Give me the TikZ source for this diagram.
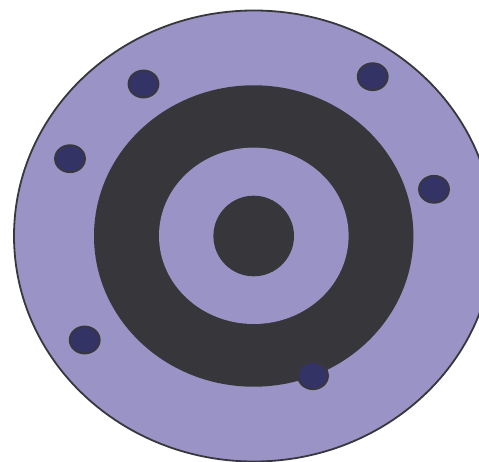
\documentclass[tikz,border=0pt]{standalone}
\definecolor{lav}{HTML}{9A93C6}
\definecolor{darkc}{HTML}{37363B}
\definecolor{dotc}{HTML}{343366}
\definecolor{edgec}{HTML}{38373D}
\tikzset{
  dotnode/.style={ellipse, draw=edgec, line width=1.8pt, fill=dotc, minimum width=30pt, minimum height=27pt, inner sep=0pt},
}
\usetikzlibrary{shapes.geometric}
\begin{document}
\begin{tikzpicture}[x=1pt,y=-1pt]
\useasboundingbox (0,0) rectangle (479,462);
\clip (0,0) rectangle (479,462);
\fill[white] (0,0) rectangle (479,462);
\draw[draw=edgec, line width=1.8pt, fill=lav] (254,236) ellipse [x radius=240, y radius=225.5];
\fill[darkc] (253.7,236) ellipse [x radius=159.7, y radius=150.7];
\fill[lav] (253.8,235.8) ellipse [x radius=94.8, y radius=88.2];
\fill[darkc] (253.7,236) ellipse [x radius=40.3, y radius=40.3];
\node[dotnode] (d1) at (143.5,84) {};
\node[dotnode] (d2) at (372.7,76.7) {};
\node[dotnode] (d3) at (70,158.7) {};
\node[dotnode] (d4) at (434,189.3) {};
\node[dotnode] (d5) at (84.7,340) {};
\node[dotnode] (d6) at (313,375.7) {};
\end{tikzpicture}
\end{document}
